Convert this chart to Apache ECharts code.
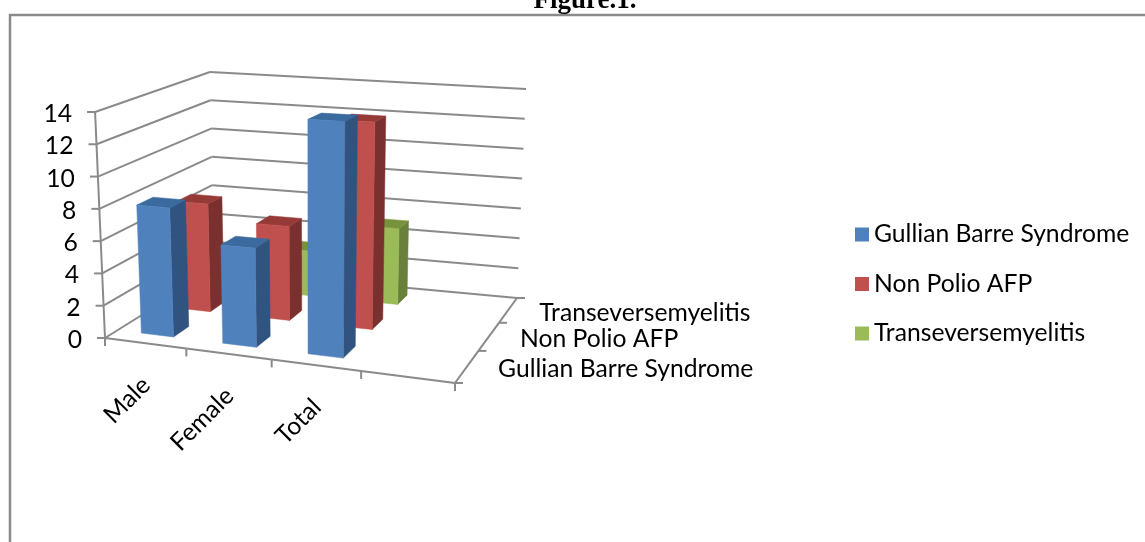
<!DOCTYPE html>
<html>
<head>
<meta charset="utf-8">
<style>html,body{margin:0;padding:0;background:#fff}#c{width:1145px;height:542px}</style>
<script src="https://cdn.jsdelivr.net/npm/echarts@6/dist/echarts.min.js"></script>
</head>
<body>
<div id="c"></div>
<script>
const categories = ['Male', 'Female', 'Total', ''];
const depthLabels = ['Gullian Barre Syndrome', 'Non Polio AFP', 'Transeversemyelitis'];
const valueTicks = [0, 2, 4, 6, 8, 10, 12, 14];
const gullianBarre = [8, 6, 14];
const nonPolioAfp = [7, 6, 13];
const transverseMyelitis = [2, 3, 5];

const FONT = 'Lato, "Open Sans", sans-serif';
const FS = 24.7;
const AXIS = '#8a8a8a';

// Corners of the 3D box on screen: floor and top plane, [u0v0, u1v0, u1v1, u0v1]
const floorQuad = [[105, 338], [455, 383], [517, 298], [214, 270]];
const topQuad = [[95, 112], [464, 133], [526, 89], [210, 72]];
const verticalVanish = [312, 5054];
const uCalibration = 0.055;

function squareToQuad(q) {
  const [x0, y0] = q[0], [x1, y1] = q[1], [x2, y2] = q[2], [x3, y3] = q[3];
  const dx1 = x1 - x2, dx2 = x3 - x2, sx = x0 - x1 + x2 - x3;
  const dy1 = y1 - y2, dy2 = y3 - y2, sy = y0 - y1 + y2 - y3;
  const d = dx1 * dy2 - dx2 * dy1;
  const g = (sx * dy2 - dx2 * sy) / d, h = (dx1 * sy - sx * dy1) / d;
  const a = x1 - x0 + g * x1, b = x3 - x0 + h * x3, c = x0;
  const e = y1 - y0 + g * y1, f = y3 - y0 + h * y3, k = y0;
  return (u, v) => {
    const w = g * u + h * v + 1;
    return [(a * u + b * v + c) / w, (e * u + f * v + k) / w];
  };
}
const floorMap = squareToQuad(floorQuad), topMap = squareToQuad(topQuad);
function P(u, v, w) {
  const uu = u + uCalibration * u * (1 - u);
  const a = floorMap(uu, v), b = topMap(uu, v);
  const y = a[1] + (b[1] - a[1]) * w;
  const x = a[0] + (verticalVanish[0] - a[0]) * (y - a[1]) / (verticalVanish[1] - a[1]);
  return [x, y];
}
// Read axis position from the library's scales
function uw(params, api, cat, val) {
  const cs = params.coordSys, pt = api.coord([cat, val]);
  return [(pt[0] - cs.x) / cs.width, 1 - (pt[1] - cs.y) / cs.height];
}
function poly(points, fill) {
  return { type: 'polygon', shape: { points }, style: { fill, stroke: fill, lineWidth: 0.5 }, silent: true };
}
function line(a, b, w) {
  return { type: 'line', shape: { x1: a[0], y1: a[1], x2: b[0], y2: b[1] },
    style: { stroke: AXIS, lineWidth: w || 2 }, silent: true };
}
function label(text, x, y, align, extra) {
  return Object.assign({ type: 'text', x, y, silent: true,
    style: { text, font: FS + 'px ' + FONT, fill: '#000', align, verticalAlign: 'middle' } }, extra || {});
}

function barSeries(name, values, depth, shades, z) {
  return {
    name, type: 'custom', z,
    itemStyle: { color: shades[0] },
    encode: { x: 0, y: 1 },
    data: values.map((v, i) => [i, v]),
    renderItem(params, api) {
      const cs = params.coordSys;
      const [uc, w] = uw(params, api, api.value(0), api.value(1));
      const band = api.size([1, 0])[0] / cs.width;
      const u0 = uc - band * 0.2, u1 = uc + band * 0.2;
      const cell = 1 / depthLabels.length;
      const v0 = (depth + 0.3) * cell, v1 = (depth + 0.7) * cell;
      return { type: 'group', children: [
        poly([P(u1, v0, 0), P(u1, v1, 0), P(u1, v1, w), P(u1, v0, w)], shades[1]),
        poly([P(u0, v0, w), P(u1, v0, w), P(u1, v1, w), P(u0, v1, w)], shades[2]),
        poly([P(u0, v0, 0), P(u1, v0, 0), P(u1, v0, w), P(u0, v0, w)], shades[0])
      ] };
    }
  };
}

const chart = echarts.init(document.getElementById('c'), null, { renderer: 'canvas' });
chart.setOption({
  animation: false,
  backgroundColor: '#fff',
  title: {
    text: 'Figure.1.', left: 585, top: -12, textAlign: 'center', padding: 0,
    textStyle: { fontFamily: '"Liberation Serif", serif', fontWeight: 'bold', fontSize: 27, color: '#000' }
  },
  graphic: [{ type: 'rect', z: 0, silent: true,
    shape: { x: 10, y: 15, width: 2000, height: 2000 },
    style: { fill: 'none', stroke: AXIS, lineWidth: 2.5 } }],
  legend: {
    show: true, orient: 'vertical', left: 855, top: 222, padding: 0,
    data: ['Gullian Barre Syndrome', 'Non Polio AFP', 'Transeversemyelitis'],
    icon: 'rect', itemWidth: 14, itemHeight: 14, itemGap: 24.5,
    textStyle: { fontFamily: FONT, fontSize: FS, color: '#000', lineHeight: 24 }
  },
  grid: { left: 105, top: 112, width: 350, height: 226 },
  xAxis: { type: 'category', data: categories, show: false },
  yAxis: { type: 'value', min: 0, max: 14, interval: 2, show: false },
  series: [
    barSeries('Gullian Barre Syndrome', gullianBarre, 0, ['#4F81BD', '#305380', '#3B6A9F'], 6),
    barSeries('Non Polio AFP', nonPolioAfp, 1, ['#C0504D', '#7A302E', '#963A38'], 5),
    barSeries('Transeversemyelitis', transverseMyelitis, 2, ['#9BBB59', '#69803A', '#76923C'], 4),
    { // walls: one gridline + tick + label per value tick
      name: 'walls', type: 'custom', z: 2, encode: { x: 0, y: 1 },
      data: valueTicks.map(v => [0, v]),
      renderItem(params, api) {
        const [, w] = uw(params, api, 0, api.value(1));
        const a = P(0, 0, w), b = P(0, 1, w), c = P(1, 1, w);
        const kids = [line(a, b), line(b, c), line([a[0] - 8, a[1]], a),
          label(String(api.value(1)), a[0] - 23, a[1] + 2, 'right')];
        if (api.value(1) === valueTicks[valueTicks.length - 1]) kids.push(line(a, P(0, 0, 0)));
        return { type: 'group', children: kids };
      }
    },
    { // front floor edge, category ticks and labels
      name: 'categoryAxis', type: 'custom', z: 3, encode: { x: 0, y: 1 },
      data: categories.map((c, i) => [i, 0]),
      renderItem(params, api) {
        const i = api.value(0), cs = params.coordSys;
        const [uc] = uw(params, api, i, 0);
        const band = api.size([1, 0])[0] / cs.width;
        const l = P(uc - band / 2, 0, 0), r = P(uc + band / 2, 0, 0), m = P(uc, 0, 0);
        const kids = [line(l, r), line(l, [l[0], l[1] + 8])];
        if (i === categories.length - 1) kids.push(line(r, [r[0], r[1] + 8]));
        if (categories[i]) kids.push(label(categories[i], m[0] + 1, m[1] + 38, 'right',
          { rotation: Math.PI / 4, originX: 0, originY: 0 }));
        return { type: 'group', children: kids };
      }
    },
    { // right floor edge, depth ticks and labels
      name: 'depthAxis', type: 'custom', z: 3, encode: { x: 0, y: 1 },
      data: depthLabels.map((c, i) => [3, 0]),
      renderItem(params, api) {
        const i = params.dataIndex, n = depthLabels.length;
        const a = P(1, i / n, 0), b = P(1, (i + 1) / n, 0), m = P(1, (i + 0.5) / n, 0);
        const kids = [line(a, b), line(a, [a[0] + 8, a[1]])];
        if (i === 0) kids.push(line(a, [a[0], a[1] + 8]));
        if (i === n - 1) kids.push(line(b, [b[0] + 8, b[1]]));
        kids.push(label(depthLabels[i], m[0] + 31, m[1] + 3, 'left'));
        return { type: 'group', children: kids };
      }
    }
  ]
});
</script>
</body>
</html>
